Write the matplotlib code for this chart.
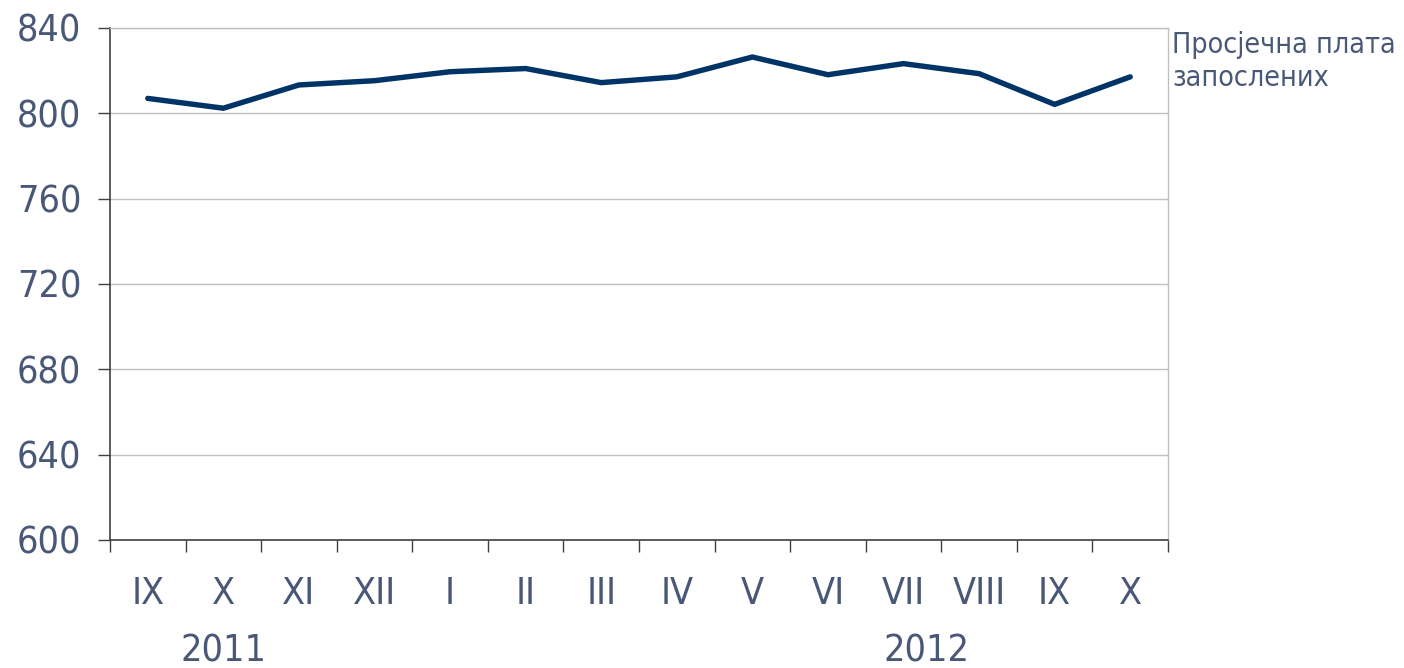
import matplotlib
matplotlib.use("Agg")
import matplotlib.pyplot as plt

# Average salary of employees, monthly
months = ["IX", "X", "XI", "XII", "I", "II", "III", "IV", "V", "VI", "VII", "VIII", "IX", "X"]
salary = [807, 802.4, 813.3, 815.3, 819.5, 821, 814.4, 817.1, 826.4, 818.1, 823.3, 818.6, 804.2, 817.1]
years = ["2011", "2012"]
year_pos = [1.0, 10.3]
series_name = "Просјечна плата\nзапослених"

text_col = "#4a5878"
line_col = "#003366"

plt.rcParams['font.family'] = ['DejaVu Sans']
plt.rcParams['font.stretch'] = 'condensed'

fig = plt.figure(figsize=(14.04, 6.68), dpi=100)
ax = fig.add_axes([110 / 1404, 1 - 540 / 668, (1168 - 110) / 1404, (540 - 28) / 668])

x = list(range(len(months)))
ax.plot(x, salary, color=line_col, lw=3.9, solid_capstyle='round', solid_joinstyle='miter', zorder=3)

ax.set_xlim(-0.5, len(months) - 0.5)
ax.set_ylim(600, 840)
ax.set_yticks(range(600, 841, 40))
ax.grid(axis='y', color='#c0c0c0', lw=1)
ax.set_axisbelow(True)

# ticks at category borders, labels at centres
ax.set_xticks([i - 0.5 for i in range(len(months) + 1)])
ax.set_xticklabels([])
ax.set_xticks(x, minor=True)
ax.set_xticklabels(months, minor=True)
ax.tick_params(axis='x', which='major', direction='out', length=8.6, width=1, color='#404040')
ax.tick_params(axis='x', which='minor', length=0, pad=26, labelsize=27, labelcolor=text_col)
ax.tick_params(axis='y', direction='out', length=8.6, width=1, color='#404040', pad=12,
               labelsize=27, labelcolor=text_col)

for side in ['left', 'bottom']:
    ax.spines[side].set_color('#404040')
    ax.spines[side].set_linewidth(1.2)
for side in ['top', 'right']:
    ax.spines[side].set_color('#c0c0c0')
    ax.spines[side].set_linewidth(1)

for yr, p in zip(years, year_pos):
    ax.annotate(yr, xy=(p, 0), xycoords=('data', 'axes fraction'), xytext=(0, -112),
                textcoords='offset pixels', ha='center', va='center', fontsize=27, color=text_col)

fig.text(1172 / 1404, 1 - 31 / 668, series_name, ha='left', va='top', fontsize=20.5,
         color=text_col, linespacing=1.25)

fig.savefig("out.png", dpi=100)
